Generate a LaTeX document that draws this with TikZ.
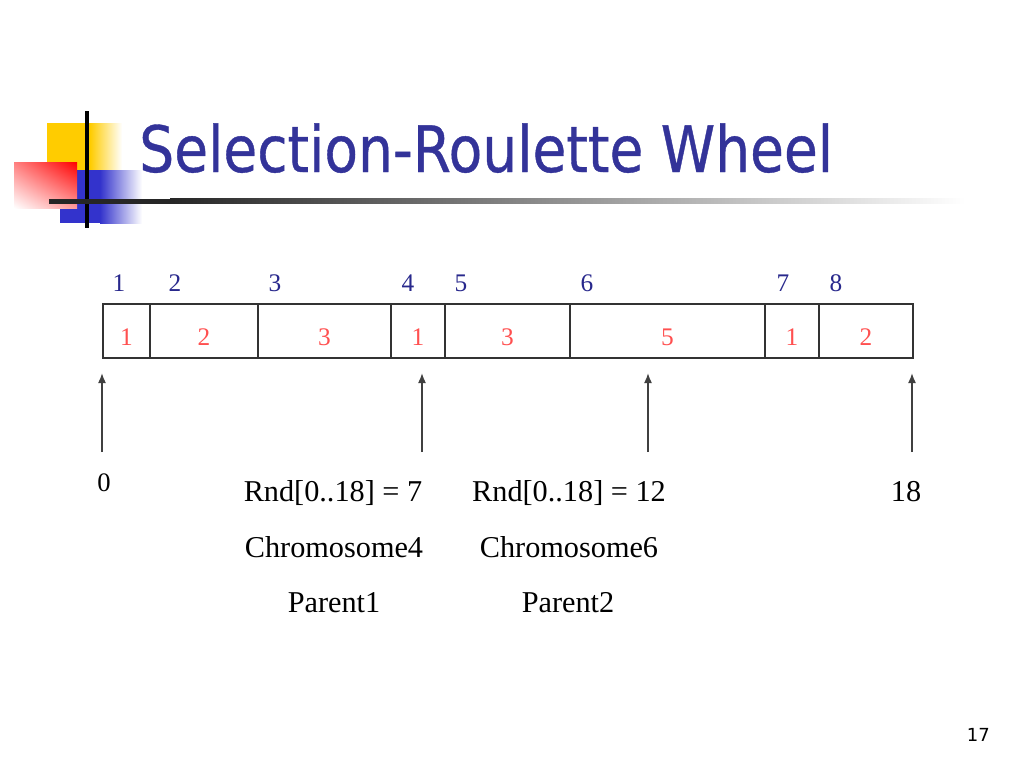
\documentclass[tikz,border=0pt]{standalone}
\usepackage{fontspec}
\setmainfont{Liberation Serif}
\newfontfamily\titlefont[FakeStretch=0.86, FakeBold=0.6]{DejaVu Sans}
\newfontfamily\pagefont{DejaVu Sans}
\usepackage{tikz}
\usetikzlibrary{positioning}
\usetikzlibrary{arrows, arrows.meta, shadings}
\definecolor{titleblue}{RGB}{51,51,153}
\definecolor{numblue}{RGB}{40,40,140}
\definecolor{numred}{RGB}{255,80,80}
\definecolor{logoyellow}{RGB}{255,204,0}
\definecolor{logoblue}{RGB}{51,51,204}

\begin{document}
\begin{tikzpicture}[x=0.75pt, y=-0.75pt,
    segbox/.style={draw=black!80, line width=1.3pt, minimum height=40.5pt, inner sep=0pt, anchor=north west},
    valtext/.style={text=numred, font=\fontsize{19}{21}\selectfont, inner sep=0pt},
    idxtext/.style={text=numblue, font=\fontsize{19}{21}\selectfont, anchor=base, inner sep=0pt},
    bottomtext/.style={font=\fontsize{22.7}{27}\selectfont, anchor=base, inner sep=0pt},
    pointer/.style={-{Latex[length=7.5pt, width=6pt]}, line width=1.2pt, black!75}]

        % Marco de la diapositiva
        \useasboundingbox (0,0) rectangle (1024,768);

        % Logo (cuadrados de colores)
        \fill[logoyellow] (47,123) rectangle (90,170);
        \shade[left color=logoyellow, right color=white] (90,123) rectangle (122,170);
        \fill[logoblue] (60,170) rectangle (100,223);
        \shade[left color=logoblue, right color=white] (100,170) rectangle (142,223);
        \shade[upper right=red, upper left=red!50, lower right=red!40, lower left=white] (14,162) rectangle (77,208);
        \fill[black] (85,111) rectangle (89,228);
        \fill[black!85] (49,198.5) rectangle (170,203.5);
        \shade[left color=black!85, right color=white] (170,198.5) rectangle (965,203.5);

        % Titulo
        \node[anchor=base west, inner sep=0pt, text=titleblue, font=\titlefont\fontsize{48}{56}\selectfont] (title) at (139,172) {Selection-Roulette Wheel};

        % Segmentos de la ruleta
        \foreach \i/\l/\r/\v in {1/102/149/1, 2/149/257/2, 3/257/390/3, 4/390/444/1, 5/444/569/3, 6/569/764/5, 7/764/818/1, 8/818/912/2}{
            \pgfmathsetmacro\w{(\r-\l)*0.75}
            \node[segbox, minimum width=\w pt] (seg\i) at (\l,303) {};
            \node[valtext] (val\i) at ([yshift=-4.5pt]seg\i.center) {\v};
        }

        % Numeros de cromosoma
        \foreach \i/\x in {1/119, 2/175, 3/275, 4/408, 5/461, 6/587, 7/783, 8/836}
            \node[idxtext] (idx\i) at (\x,291) {\i};

        % Flechas
        \foreach \n/\x in {zero/102, rndA/422, rndB/648, end/912}{
            \coordinate (tail-\n) at (\x,452);
            \coordinate (tip-\n) at (\x,373);
            \draw[pointer] (tail-\n) -- (tip-\n);
        }

        % Etiquetas inferiores
        \node[bottomtext, font=\fontsize{20}{24}\selectfont] (zero) at (104,491) {0};
        \node[bottomtext] (eighteen) at (906,501) {18};
        \node[bottomtext] (rndA) at (333,501) {Rnd[0..18] = 7};
        \node[bottomtext] (rndB) at (569,501) {Rnd[0..18] = 12};
        \node[bottomtext] (chromA) at (334,557) {Chromosome4};
        \node[bottomtext] (chromB) at (569,557) {Chromosome6};
        \node[bottomtext] (parA) at (334,612) {Parent1};
        \node[bottomtext] (parB) at (568,612) {Parent2};

        % Numero de pagina
        \node[anchor=base east, inner sep=0pt, font=\pagefont\fontsize{13.5}{16}\selectfont] (pagenum) at (990,741) {17};
    \end{tikzpicture}
\end{document}
